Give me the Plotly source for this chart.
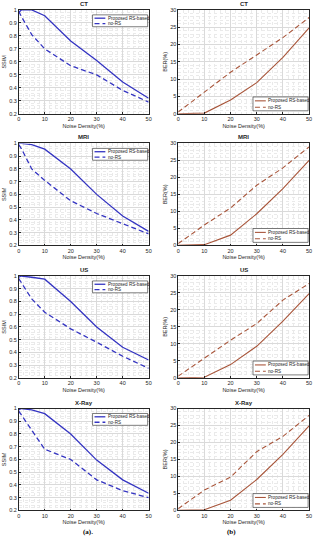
import plotly.graph_objects as go

modalities = ["CT", "MRI", "US", "X-Ray"]
series_names = ["Proposed RS-based", "no-RS"]
x_ssim = [0, 1, 5, 10, 20, 30, 40, 50]
ssim_prop = {
    "CT":    [0.98, 1.0, 1.0, 0.955, 0.76, 0.61, 0.445, 0.32],
    "MRI":   [1.0, 1.0, 0.99, 0.955, 0.80, 0.60, 0.43, 0.31],
    "US":    [0.99, 1.0, 0.99, 0.975, 0.80, 0.60, 0.44, 0.34],
    "X-Ray": [0.99, 1.0, 0.99, 0.96, 0.80, 0.595, 0.44, 0.335],
}
ssim_nors = {
    "CT":    [0.99, 0.95, 0.81, 0.70, 0.57, 0.50, 0.38, 0.29],
    "MRI":   [0.99, 0.96, 0.80, 0.71, 0.55, 0.45, 0.37, 0.29],
    "US":    [0.98, 0.95, 0.82, 0.715, 0.585, 0.48, 0.37, 0.275],
    "X-Ray": [0.98, 0.95, 0.82, 0.68, 0.60, 0.44, 0.355, 0.30],
}
x_ber = [0, 10, 20, 30, 40, 50]
ber_prop = {
    "CT":    [0, 0.2, 4.0, 9.0, 16.3, 24.8],
    "MRI":   [0, 0.2, 3.0, 9.3, 16.7, 25.0],
    "US":    [0, 0.2, 3.9, 9.3, 16.7, 24.8],
    "X-Ray": [0, 0.2, 3.0, 9.1, 16.5, 24.9],
}
ber_nors = {
    "CT":    [0.5, 6.2, 12.0, 17.0, 22.0, 27.8],
    "MRI":   [0.5, 6.0, 11.0, 17.7, 22.8, 29.0],
    "US":    [0.5, 5.8, 11.1, 16.0, 22.9, 27.8],
    "X-Ray": [0.5, 6.0, 9.8, 17.3, 21.8, 28.0],
}
x_ticks = [0, 10, 20, 30, 40, 50]
ssim_ticks = [0.2, 0.3, 0.4, 0.5, 0.6, 0.7, 0.8, 0.9, 1.0]
ber_ticks = [0, 5, 10, 15, 20, 25, 30]

W, H = 318, 550
BLUE = "#3434c2"
BROWN = "#a8553a"
FONT = "Liberation Sans"
TXT = "#262626"
DASH = "5px,3px"

rows_px = [(7, 112), (142, 245), (276, 379), (410, 513)]
left_px = (17, 149)
right_px = (179, 312)

def px_x(p):
    return p / W

def px_y(p):
    return 1 - p / H

fig = go.Figure()
layout = dict(width=W, height=H, margin=dict(l=0, r=0, t=0, b=0),
              paper_bgcolor="white", plot_bgcolor="white", showlegend=False,
              font=dict(family=FONT, size=6, color=TXT), annotations=[], shapes=[])

axis_common = dict(showline=True, linecolor=TXT, linewidth=0.6, mirror=True,
                   showgrid=True, gridcolor="#dadada", gridwidth=0.5, zeroline=False,
                   ticks="inside", ticklen=2, tickcolor=TXT,
                   tickfont=dict(size=5.5, family=FONT, color=TXT))

def add_legend(x0, x1, y0, y1, color, width):
    layout["shapes"].append(dict(type="rect", xref="paper", yref="paper",
                                 x0=px_x(x0), x1=px_x(x1), y0=px_y(y1), y1=px_y(y0),
                                 line=dict(color=TXT, width=0.6), fillcolor="white", layer="above"))
    h = (y1 - y0)
    for i, (nm, dash) in enumerate(zip(series_names, ["solid", DASH])):
        yy = y0 + h * (0.28 + 0.46 * i)
        layout["shapes"].append(dict(type="line", xref="paper", yref="paper",
                                     x0=px_x(x0 + 2), x1=px_x(x0 + 13), y0=px_y(yy), y1=px_y(yy),
                                     line=dict(color=color, width=width, dash=dash), layer="above"))
        layout["annotations"].append(dict(text=nm, x=px_x(x0 + 13.5), y=px_y(yy), xref="paper", yref="paper",
                                          xanchor="left", yanchor="middle", showarrow=False,
                                          font=dict(size=4.6, family=FONT, color=TXT)))

n = 0
for r, mod in enumerate(modalities):
    top, bot = rows_px[r]
    for c in range(2):
        n += 1
        xa = "xaxis" if n == 1 else f"xaxis{n}"
        ya = "yaxis" if n == 1 else f"yaxis{n}"
        xref = "x" if n == 1 else f"x{n}"
        yref = "y" if n == 1 else f"y{n}"
        xp = left_px if c == 0 else right_px
        layout[xa] = dict(axis_common, domain=[px_x(xp[0]), px_x(xp[1])], anchor=yref,
                          range=[0, 50], tickvals=x_ticks,
                          minor=dict(showgrid=True, dtick=2, gridcolor="#eaeaea", griddash="dot", gridwidth=0.5),
                          title=dict(text="Noise Density(%)", font=dict(size=5.5, family=FONT, color=TXT), standoff=2))
        if c == 0:
            layout[ya] = dict(axis_common, domain=[px_y(bot), px_y(top)], anchor=xref,
                              range=[0.2, 1.0], tickvals=ssim_ticks,
                              ticktext=[("%g" % v) for v in ssim_ticks],
                              minor=dict(showgrid=True, dtick=0.02, gridcolor="#eaeaea", griddash="dot", gridwidth=0.5),
                              title=dict(text="SSIM", font=dict(size=5.5, family=FONT, color=TXT), standoff=2))
            fig.add_trace(go.Scatter(x=x_ssim, y=ssim_prop[mod], mode="lines", xaxis=xref, yaxis=yref,
                                     line=dict(color=BLUE, width=1.3), name=series_names[0]))
            fig.add_trace(go.Scatter(x=x_ssim, y=ssim_nors[mod], mode="lines", xaxis=xref, yaxis=yref,
                                     line=dict(color=BLUE, width=1.3, dash=DASH), name=series_names[1]))
            add_legend(92, 148, top + 5, top + 17, BLUE, 1.3)
        else:
            layout[ya] = dict(axis_common, domain=[px_y(bot), px_y(top)], anchor=xref,
                              range=[0, 30], tickvals=ber_ticks,
                              minor=dict(showgrid=True, dtick=1, gridcolor="#eaeaea", griddash="dot", gridwidth=0.5),
                              title=dict(text="BER(%)", font=dict(size=5.5, family=FONT, color=TXT), standoff=2))
            fig.add_trace(go.Scatter(x=x_ber, y=ber_prop[mod], mode="lines", xaxis=xref, yaxis=yref,
                                     line=dict(color=BROWN, width=1.1), name=series_names[0]))
            fig.add_trace(go.Scatter(x=x_ber, y=ber_nors[mod], mode="lines", xaxis=xref, yaxis=yref,
                                     line=dict(color=BROWN, width=1.1, dash=DASH), name=series_names[1]))
            add_legend(255, 311, bot - 17, bot - 3, BROWN, 1.1)
        layout["annotations"].append(dict(text="<b>%s</b>" % mod, x=(px_x(xp[0]) + px_x(xp[1])) / 2,
                                          y=px_y(top - 1), xref="paper", yref="paper",
                                          xanchor="center", yanchor="bottom", showarrow=False,
                                          font=dict(size=6, family=FONT, color=TXT)))

layout["annotations"].append(dict(text="<b>(a).</b>", x=px_x(80), y=px_y(541), xref="paper", yref="paper",
                                  showarrow=False, font=dict(size=7, family="Liberation Serif", color="black")))
layout["annotations"].append(dict(text="<b>(b)</b>", x=px_x(240), y=px_y(541), xref="paper", yref="paper",
                                  showarrow=False, font=dict(size=7, family="Liberation Serif", color="black")))

fig.update_layout(**layout)
fig.write_html("out.html", config={"displayModeBar": False},
               post_script="document.body.style.margin='0';document.body.style.overflow='hidden';")
